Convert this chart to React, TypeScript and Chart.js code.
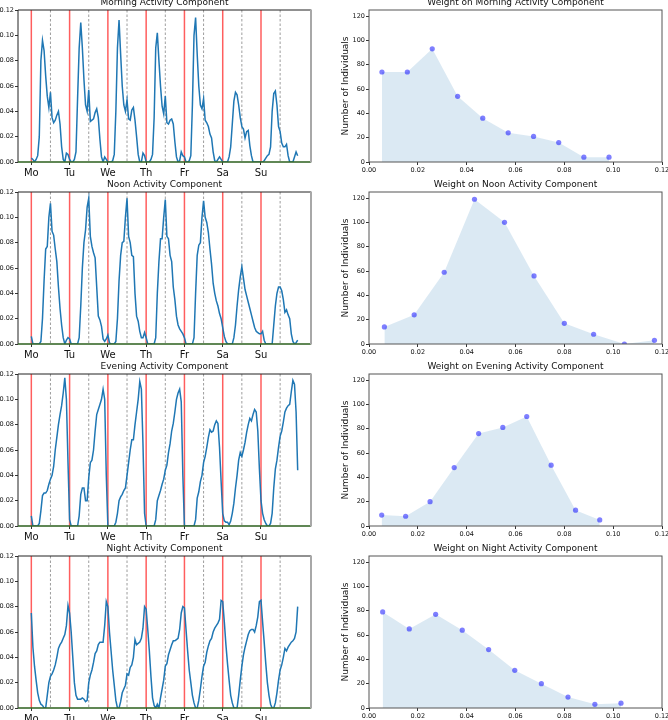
import React, { useEffect, useRef } from 'react';
import { Chart, registerables } from 'chart.js';

Chart.register(...registerables);

// ---------- data ----------
const DAY_LABELS = ['Mo', 'Tu', 'We', 'Th', 'Fr', 'Sa', 'Su'];
const HOURS_PER_DAY = 24;

const morningActivity = [
  0.003, 0.002, 0.000, 0.002, 0.005, 0.020, 0.080, 0.096, 0.088, 0.068, 0.052, 0.043, 0.055, 0.035, 0.031, 0.033, 0.037, 0.040, 0.030, 0.012, 0.002, 0.000, 0.007, 0.006,
  0.002, 0.000, 0.000, 0.002, 0.008, 0.050, 0.090, 0.110, 0.090, 0.065, 0.045, 0.040, 0.057, 0.032, 0.033, 0.034, 0.039, 0.042, 0.035, 0.018, 0.004, 0.000, 0.004, 0.002,
  0.000, 0.000, 0.000, 0.001, 0.006, 0.040, 0.090, 0.112, 0.085, 0.060, 0.045, 0.040, 0.049, 0.034, 0.033, 0.041, 0.043, 0.033, 0.020, 0.006, 0.000, 0.000, 0.007, 0.005,
  0.000, 0.000, 0.000, 0.002, 0.006, 0.035, 0.090, 0.102, 0.080, 0.060, 0.044, 0.038, 0.052, 0.031, 0.030, 0.033, 0.034, 0.030, 0.016, 0.004, 0.000, 0.001, 0.008, 0.005,
  0.004, 0.000, 0.000, 0.001, 0.005, 0.045, 0.100, 0.114, 0.085, 0.060, 0.045, 0.042, 0.050, 0.033, 0.031, 0.028, 0.022, 0.019, 0.008, 0.001, 0.000, 0.002, 0.004, 0.002,
  0.000, 0.000, 0.000, 0.000, 0.004, 0.012, 0.030, 0.048, 0.055, 0.053, 0.045, 0.035, 0.028, 0.026, 0.019, 0.024, 0.025, 0.013, 0.005, 0.000, 0.000, 0.000, 0.000, 0.000,
  0.000, 0.000, 0.001, 0.003, 0.005, 0.006, 0.012, 0.040, 0.054, 0.056, 0.045, 0.028, 0.024, 0.015, 0.012, 0.012, 0.014, 0.005, 0.000, 0.000, 0.000, 0.004, 0.008, 0.005,
];

const noonActivity = [
  0.006, 0.000, 0.000, 0.000, 0.000, 0.000, 0.002, 0.020, 0.050, 0.075, 0.077, 0.100, 0.111, 0.089, 0.086, 0.075, 0.065, 0.045, 0.028, 0.015, 0.005, 0.000, 0.003, 0.005,
  0.004, 0.000, 0.000, 0.000, 0.000, 0.000, 0.005, 0.030, 0.060, 0.080, 0.090, 0.108, 0.115, 0.085, 0.077, 0.072, 0.068, 0.045, 0.022, 0.019, 0.014, 0.004, 0.002, 0.004,
  0.007, 0.001, 0.000, 0.000, 0.000, 0.002, 0.020, 0.050, 0.070, 0.080, 0.081, 0.100, 0.115, 0.085, 0.080, 0.070, 0.069, 0.040, 0.022, 0.018, 0.010, 0.005, 0.005, 0.009,
  0.005, 0.000, 0.000, 0.000, 0.000, 0.000, 0.005, 0.040, 0.065, 0.083, 0.083, 0.100, 0.114, 0.085, 0.083, 0.070, 0.065, 0.045, 0.035, 0.022, 0.015, 0.012, 0.010, 0.008,
  0.005, 0.000, 0.000, 0.000, 0.000, 0.000, 0.005, 0.040, 0.070, 0.078, 0.080, 0.100, 0.113, 0.100, 0.096, 0.088, 0.075, 0.063, 0.048, 0.040, 0.034, 0.030, 0.024, 0.020,
  0.013, 0.006, 0.002, 0.000, 0.000, 0.000, 0.000, 0.005, 0.015, 0.030, 0.043, 0.053, 0.061, 0.052, 0.043, 0.038, 0.033, 0.028, 0.023, 0.018, 0.013, 0.010, 0.009, 0.008,
  0.008, 0.010, 0.003, 0.000, 0.000, 0.000, 0.000, 0.000, 0.015, 0.030, 0.040, 0.045, 0.045, 0.042, 0.035, 0.025, 0.027, 0.023, 0.020, 0.008, 0.002, 0.000, 0.001, 0.003,
];

const eveningActivity = [
  0.008, 0.000, 0.000, 0.000, 0.000, 0.002, 0.012, 0.024, 0.026, 0.026, 0.028, 0.033, 0.037, 0.040, 0.047, 0.060, 0.070, 0.080, 0.088, 0.095, 0.105, 0.117, 0.100, 0.050,
  0.005, 0.000, 0.000, 0.000, 0.000, 0.000, 0.008, 0.025, 0.030, 0.030, 0.020, 0.020, 0.038, 0.050, 0.052, 0.060, 0.075, 0.088, 0.092, 0.096, 0.100, 0.108, 0.100, 0.040,
  0.000, 0.000, 0.000, 0.000, 0.000, 0.003, 0.010, 0.020, 0.023, 0.025, 0.028, 0.030, 0.040, 0.050, 0.060, 0.068, 0.068, 0.080, 0.090, 0.100, 0.114, 0.108, 0.065, 0.010,
  0.000, 0.000, 0.000, 0.000, 0.000, 0.000, 0.005, 0.020, 0.024, 0.028, 0.033, 0.037, 0.044, 0.048, 0.058, 0.065, 0.075, 0.081, 0.090, 0.100, 0.105, 0.108, 0.098, 0.040,
  0.000, 0.000, 0.000, 0.000, 0.000, 0.000, 0.000, 0.005, 0.022, 0.027, 0.035, 0.040, 0.050, 0.055, 0.062, 0.070, 0.076, 0.074, 0.075, 0.080, 0.083, 0.081, 0.062, 0.035,
  0.010, 0.004, 0.003, 0.003, 0.001, 0.004, 0.010, 0.018, 0.030, 0.040, 0.052, 0.058, 0.055, 0.060, 0.066, 0.074, 0.080, 0.085, 0.083, 0.088, 0.092, 0.090, 0.075, 0.045,
  0.020, 0.010, 0.005, 0.002, 0.000, 0.000, 0.002, 0.010, 0.030, 0.045, 0.052, 0.062, 0.071, 0.075, 0.082, 0.090, 0.093, 0.095, 0.096, 0.106, 0.115, 0.112, 0.090, 0.044,
];

const nightActivity = [
  0.075, 0.048, 0.033, 0.022, 0.012, 0.006, 0.003, 0.002, 0.000, 0.000, 0.010, 0.020, 0.025, 0.027, 0.030, 0.034, 0.040, 0.047, 0.050, 0.052, 0.055, 0.058, 0.065, 0.081,
  0.075, 0.060, 0.040, 0.020, 0.010, 0.007, 0.007, 0.007, 0.008, 0.007, 0.005, 0.006, 0.020, 0.026, 0.030, 0.036, 0.043, 0.045, 0.050, 0.052, 0.052, 0.052, 0.065, 0.084,
  0.080, 0.060, 0.045, 0.030, 0.018, 0.006, 0.000, 0.000, 0.005, 0.012, 0.015, 0.018, 0.027, 0.026, 0.032, 0.034, 0.040, 0.054, 0.050, 0.051, 0.052, 0.055, 0.063, 0.080,
  0.078, 0.062, 0.045, 0.025, 0.008, 0.002, 0.000, 0.003, 0.000, 0.008, 0.015, 0.022, 0.033, 0.035, 0.042, 0.046, 0.050, 0.053, 0.053, 0.054, 0.055, 0.062, 0.075, 0.080,
  0.079, 0.062, 0.045, 0.030, 0.020, 0.010, 0.004, 0.000, 0.000, 0.006, 0.015, 0.025, 0.033, 0.036, 0.044, 0.049, 0.053, 0.055, 0.060, 0.063, 0.065, 0.067, 0.070, 0.085,
  0.084, 0.068, 0.050, 0.035, 0.022, 0.010, 0.004, 0.000, 0.000, 0.000, 0.010, 0.022, 0.033, 0.042, 0.048, 0.053, 0.058, 0.061, 0.062, 0.062, 0.060, 0.065, 0.072, 0.084,
  0.085, 0.068, 0.052, 0.035, 0.020, 0.010, 0.003, 0.000, 0.000, 0.004, 0.012, 0.022, 0.030, 0.034, 0.040, 0.047, 0.045, 0.048, 0.050, 0.052, 0.053, 0.055, 0.060, 0.080,
];

const morningWeightBins = [0.0053, 0.0157, 0.0259, 0.0363, 0.0466, 0.0570, 0.0674, 0.0777, 0.0880, 0.0983];
const morningWeightCounts = [74, 74, 93, 54, 36, 24, 21, 16, 4, 4];
const noonWeightBins = [0.0063, 0.0185, 0.0308, 0.0432, 0.0555, 0.0676, 0.0800, 0.0920, 0.1046, 0.1169];
const noonWeightCounts = [14, 24, 59, 119, 100, 56, 17, 8, 0, 3];
const eveningWeightBins = [0.0052, 0.0150, 0.0250, 0.0349, 0.0449, 0.0548, 0.0646, 0.0746, 0.0846, 0.0945];
const eveningWeightCounts = [9, 8, 20, 48, 76, 81, 90, 50, 13, 5];
const nightWeightBins = [0.0056, 0.0165, 0.0273, 0.0382, 0.0490, 0.0597, 0.0706, 0.0815, 0.0925, 0.1032];
const nightWeightCounts = [79, 65, 77, 64, 48, 31, 20, 9, 3, 4];

const componentTitles = ['Morning Activity Component', 'Noon Activity Component', 'Evening Activity Component', 'Night Activity Component'];
const weightTitles = ['Weight on Morning Activity Component', 'Weight on Noon Activity Component', 'Weight on Evening Activity Component', 'Weight on Night Activity Component'];
const activitySeries = [morningActivity, noonActivity, eveningActivity, nightActivity];
const weightBins = [morningWeightBins, noonWeightBins, eveningWeightBins, nightWeightBins];
const weightCounts = [morningWeightCounts, noonWeightCounts, eveningWeightCounts, nightWeightCounts];

const activityYTicks = [0, 0.02, 0.04, 0.06, 0.08, 0.10, 0.12];
const weightXTicks = [0, 0.02, 0.04, 0.06, 0.08, 0.10, 0.12];
const countTicks = [0, 20, 40, 60, 80, 100, 120];

// ---------- layout ----------
const FONT = "'DejaVu Sans', 'Noto Sans', sans-serif";
const ROW_TOPS = [10, 192, 374, 556];
const PLOT_H = 152;
const TITLE_H = 13;
const XAXIS_H = 20;
const CANVAS_H = TITLE_H + PLOT_H + XAXIS_H;

const LEFT_CANVAS_X = -30;
const LEFT_CANVAS_W = 364;
const LEFT_YAXIS_W = 48;
const LEFT_PAD_R = 23;

const RIGHT_CANVAS_X = 334;
const RIGHT_CANVAS_W = 366;
const RIGHT_YAXIS_W = 35;
const RIGHT_PAD_R = 38;

const TICK_FONT = { family: FONT, size: 6.5 };

const lineAt = (ctx: any, x1: number, y1: number, x2: number, y2: number) => {
  ctx.beginPath();
  ctx.moveTo(x1, y1);
  ctx.lineTo(x2, y2);
  ctx.stroke();
};

const activityDecor = {
  id: 'activityDecor',
  beforeDatasetsDraw(chart: any) {
    const { ctx, chartArea: a, scales } = chart;
    const x = scales.x;
    ctx.save();
    ctx.beginPath();
    ctx.rect(a.left, a.top, a.right - a.left, a.bottom - a.top);
    ctx.clip();
    ctx.strokeStyle = 'rgba(110,110,110,0.85)';
    ctx.lineWidth = 0.8;
    ctx.setLineDash([2.5, 2]);
    DAY_LABELS.forEach((_, d) => {
      const px = x.getPixelForValue(d * HOURS_PER_DAY + HOURS_PER_DAY / 2);
      lineAt(ctx, px, a.top, px, a.bottom);
    });
    ctx.setLineDash([]);
    ctx.strokeStyle = 'rgba(255,40,40,0.75)';
    ctx.lineWidth = 1.5;
    DAY_LABELS.forEach((_, d) => {
      const px = x.getPixelForValue(d * HOURS_PER_DAY);
      lineAt(ctx, px, a.top, px, a.bottom);
    });
    ctx.restore();
  },
  afterDraw(chart: any) {
    const { ctx, chartArea: a, scales } = chart;
    const y0 = scales.y.getPixelForValue(0);
    ctx.save();
    ctx.lineWidth = 1;
    ctx.strokeStyle = '#222';
    lineAt(ctx, a.left, a.top, a.right, a.top);
    lineAt(ctx, a.left, a.top, a.left, a.bottom);
    lineAt(ctx, a.left, a.bottom, a.right, a.bottom);
    ctx.strokeStyle = 'rgba(60,128,40,0.75)';
    ctx.lineWidth = 1.5;
    lineAt(ctx, a.left, y0, a.right, y0);
    ctx.strokeStyle = '#a8a8a8';
    ctx.lineWidth = 2;
    lineAt(ctx, a.right, a.top - 0.5, a.right, a.bottom + 0.5);
    ctx.restore();
  },
};

const weightFrame = {
  id: 'weightFrame',
  afterDraw(chart: any) {
    const { ctx, chartArea: a } = chart;
    ctx.save();
    ctx.lineWidth = 1;
    ctx.strokeStyle = '#555';
    ctx.strokeRect(a.left, a.top, a.right - a.left, a.bottom - a.top);
    ctx.restore();
  },
};

const tickGrid = { display: true, drawOnChartArea: false, drawTicks: true, tickLength: 3, color: '#333' };

function activityConfig(i: number): any {
  const series = activitySeries[i];
  return {
    type: 'line',
    data: {
      datasets: [
        {
          data: series.map((v, h) => ({ x: h, y: v })),
          borderColor: '#1f77b4',
          borderWidth: 1.5,
          pointRadius: 0,
          tension: 0,
          fill: false,
        },
      ],
    },
    options: {
      animation: false,
      responsive: false,
      devicePixelRatio: 1,
      layout: { padding: { left: 0, right: LEFT_PAD_R, top: 0, bottom: 0 } },
      plugins: {
        legend: { display: false },
        tooltip: { enabled: false },
        title: {
          display: true,
          text: componentTitles[i],
          fullSize: false,
          color: '#111',
          font: { family: FONT, size: 9, weight: 'normal', lineHeight: '11px' },
          padding: { top: 0, bottom: 2 },
        },
      },
      scales: {
        x: {
          type: 'linear',
          min: -8.35,
          max: 175.35,
          grid: tickGrid,
          border: { display: false },
          afterBuildTicks: (scale: any) => {
            scale.ticks = DAY_LABELS.map((_, d) => ({ value: d * HOURS_PER_DAY }));
          },
          afterFit: (scale: any) => {
            scale.height = XAXIS_H;
          },
          ticks: {
            autoSkip: false,
            maxRotation: 0,
            padding: 2,
            color: '#111',
            font: { family: FONT, size: 10 },
            callback: (_v: any, idx: number) => DAY_LABELS[idx],
          },
        },
        y: {
          type: 'linear',
          min: 0,
          max: 0.12,
          grid: tickGrid,
          border: { display: false },
          afterBuildTicks: (scale: any) => {
            scale.ticks = activityYTicks.map((v) => ({ value: v }));
          },
          afterFit: (scale: any) => {
            scale.width = LEFT_YAXIS_W;
          },
          ticks: {
            padding: 1,
            color: '#111',
            font: TICK_FONT,
            callback: (v: any) => Number(v).toFixed(2),
          },
        },
      },
    },
    plugins: [activityDecor],
  };
}

function weightConfig(i: number): any {
  const bins = weightBins[i];
  const counts = weightCounts[i];
  return {
    type: 'line',
    data: {
      datasets: [
        {
          data: bins.map((b, k) => ({ x: b, y: counts[k] })),
          fill: 'origin',
          backgroundColor: 'rgba(31,119,180,0.16)',
          borderColor: 'rgba(0,0,0,0)',
          borderWidth: 0,
          tension: 0,
          pointRadius: 2.6,
          pointBackgroundColor: 'rgba(0,0,255,0.5)',
          pointBorderColor: 'rgba(0,0,0,0)',
          pointBorderWidth: 0,
        },
      ],
    },
    options: {
      animation: false,
      responsive: false,
      devicePixelRatio: 1,
      layout: { padding: { left: 0, right: RIGHT_PAD_R, top: 0, bottom: 0 } },
      plugins: {
        legend: { display: false },
        tooltip: { enabled: false },
        title: {
          display: true,
          text: weightTitles[i],
          fullSize: false,
          color: '#111',
          font: { family: FONT, size: 9, weight: 'normal', lineHeight: '11px' },
          padding: { top: 0, bottom: 2 },
        },
      },
      scales: {
        x: {
          type: 'linear',
          min: 0,
          max: 0.12,
          grid: tickGrid,
          border: { display: false },
          afterBuildTicks: (scale: any) => {
            scale.ticks = weightXTicks.map((v) => ({ value: v }));
          },
          afterFit: (scale: any) => {
            scale.height = XAXIS_H;
          },
          ticks: {
            autoSkip: false,
            maxRotation: 0,
            padding: 1,
            color: '#111',
            font: TICK_FONT,
            callback: (v: any) => Number(v).toFixed(2),
          },
        },
        y: {
          type: 'linear',
          min: 0,
          max: 124.95,
          grid: tickGrid,
          border: { display: false },
          afterBuildTicks: (scale: any) => {
            scale.ticks = countTicks.map((v) => ({ value: v }));
          },
          afterFit: (scale: any) => {
            scale.width = RIGHT_YAXIS_W;
          },
          title: {
            display: true,
            text: 'Number of Individuals',
            color: '#111',
            font: { family: FONT, size: 9, lineHeight: 1.2 },
            padding: { top: 6, bottom: 0 },
          },
          ticks: {
            padding: 1,
            color: '#111',
            font: TICK_FONT,
            callback: (v: any) => String(Math.round(Number(v))),
          },
        },
      },
    },
    plugins: [weightFrame],
  };
}

type PanelProps = { left: number; top: number; width: number; height: number; makeConfig: () => any };

function Panel({ left, top, width, height, makeConfig }: PanelProps) {
  const ref = useRef<HTMLCanvasElement | null>(null);
  useEffect(() => {
    const chart = new Chart(ref.current as HTMLCanvasElement, makeConfig());
    return () => chart.destroy();
  }, []);
  return (
    <canvas
      ref={ref}
      width={width}
      height={height}
      style={{ position: 'absolute', left, top, width, height, display: 'block' }}
    />
  );
}

export default function App() {
  return (
    <div
      style={{
        position: 'absolute',
        left: 0,
        top: 0,
        width: 668,
        height: 720,
        overflow: 'hidden',
        background: '#fff',
      }}
    >
      {ROW_TOPS.map((t, i) => (
        <React.Fragment key={i}>
          <Panel
            left={LEFT_CANVAS_X}
            top={t - TITLE_H}
            width={LEFT_CANVAS_W}
            height={CANVAS_H}
            makeConfig={() => activityConfig(i)}
          />
          <Panel
            left={RIGHT_CANVAS_X}
            top={t - TITLE_H}
            width={RIGHT_CANVAS_W}
            height={CANVAS_H}
            makeConfig={() => weightConfig(i)}
          />
        </React.Fragment>
      ))}
    </div>
  );
}
